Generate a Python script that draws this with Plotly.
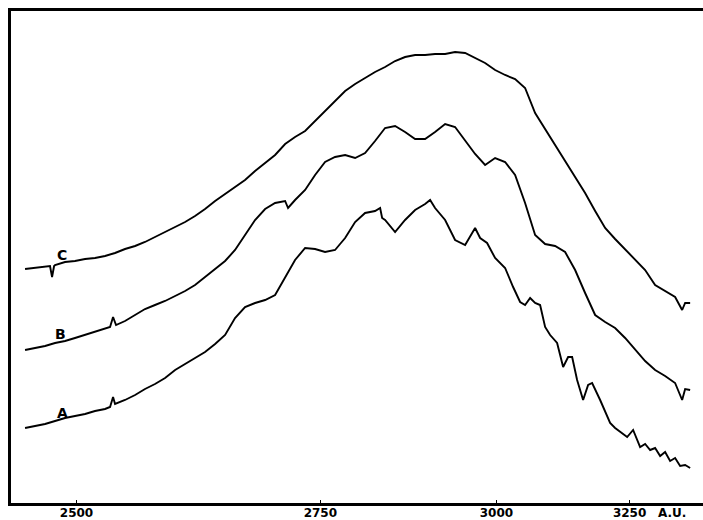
import numpy as np
import plotly.graph_objects as go

# ---- data (wavelength in Angstrom units, relative photometer deflection) ----
lam_C = [2457.2, 2465.3, 2473.5, 2477.6, 2479.3, 2481.0, 2481.8, 2490.2, 2498.7, 2507.4,
         2516.1, 2525.0, 2534.0, 2543.1, 2552.4, 2561.7, 2571.2, 2580.9, 2590.7, 2600.6,
         2610.6, 2620.8, 2631.2, 2641.7, 2652.3, 2663.1, 2674.1, 2685.3, 2696.6, 2708.1,
         2719.7, 2731.6, 2743.6, 2755.8, 2768.2, 2780.9, 2793.7, 2806.7, 2819.9, 2833.4,
         2847.1, 2861.0, 2875.2, 2889.6, 2904.2, 2919.2, 2934.3, 2949.8, 2965.5, 2981.5,
         2997.8, 3014.4, 3031.3, 3048.5, 3066.1, 3084.0, 3102.2, 3120.8, 3139.8, 3159.1,
         3178.9, 3199.0, 3219.5, 3240.5, 3261.9, 3283.8, 3306.1, 3328.9, 3352.2, 3368.9,
         3376.1, 3388.2]
val_C = [46.8, 47.0, 47.2, 47.4, 45.2, 47.4, 47.6, 48.2, 48.4, 48.8,
         49.0, 49.4, 50.0, 50.8, 51.4, 52.2, 53.2, 54.2, 55.2, 56.2,
         57.4, 58.8, 60.4, 61.8, 63.2, 64.6, 66.4, 68.0, 69.6, 71.8,
         73.2, 74.4, 76.4, 78.2, 80.2, 82.4, 83.8, 85.0, 86.2, 87.2,
         88.4, 89.2, 89.6, 89.6, 89.8, 89.8, 90.2, 90.0, 89.0, 88.0,
         86.6, 85.6, 84.8, 83.0, 78.0, 74.8, 71.8, 68.6, 65.2, 62.0,
         58.4, 55.0, 52.8, 50.8, 48.8, 46.6, 43.6, 42.4, 41.2, 38.6,
         40.0, 40.0]

lam_B = [2457.2, 2465.3, 2473.5, 2481.8, 2490.2, 2498.7, 2507.4, 2516.1, 2525.0, 2529.5,
         2532.2, 2534.9, 2543.1, 2552.4, 2561.7, 2571.2, 2580.9, 2590.7, 2600.6, 2610.6,
         2620.8, 2631.2, 2641.7, 2652.3, 2663.1, 2674.1, 2685.3, 2696.6, 2708.1, 2711.5,
         2719.7, 2731.6, 2743.6, 2755.8, 2768.2, 2780.9, 2793.7, 2806.7, 2819.9, 2833.4,
         2847.1, 2861.0, 2875.2, 2889.6, 2904.2, 2919.2, 2934.3, 2949.8, 2965.5, 2981.5,
         2997.8, 3014.4, 3031.3, 3048.5, 3066.1, 3084.0, 3102.2, 3120.8, 3139.8, 3159.1,
         3178.9, 3199.0, 3219.5, 3240.5, 3261.9, 3283.8, 3306.1, 3328.9, 3352.2, 3368.9,
         3376.1, 3388.2]
val_B = [30.6, 31.0, 31.4, 32.0, 32.4, 33.0, 33.6, 34.2, 34.8, 35.2,
         37.2, 35.6, 36.4, 37.6, 38.8, 39.6, 40.4, 41.4, 42.4, 43.6,
         45.2, 46.8, 48.4, 50.6, 53.6, 56.6, 58.8, 60.0, 60.4, 59.0,
         60.6, 62.6, 65.6, 68.2, 69.2, 69.6, 69.0, 70.0, 72.4, 75.0,
         75.4, 74.2, 72.8, 72.8, 74.2, 75.8, 75.2, 72.6, 69.8, 67.6,
         69.0, 68.2, 65.6, 60.0, 53.6, 51.8, 51.4, 50.2, 46.6, 42.0,
         37.6, 36.2, 35.0, 33.0, 30.8, 28.4, 26.6, 25.4, 24.0, 20.6,
         22.8, 22.6]

lam_A = [2457.2, 2465.3, 2473.5, 2481.8, 2490.2, 2498.7, 2507.4, 2516.1, 2525.0, 2529.5,
         2532.2, 2534.0, 2543.1, 2552.4, 2561.7, 2571.2, 2580.9, 2590.7, 2600.6, 2610.6,
         2620.8, 2631.2, 2641.7, 2652.3, 2663.1, 2674.1, 2685.3, 2696.6, 2708.1, 2719.7,
         2731.6, 2743.6, 2755.8, 2768.2, 2774.5, 2780.9, 2793.7, 2806.7, 2819.9, 2826.7,
         2829.4, 2833.4, 2847.1, 2861.0, 2875.2, 2889.6, 2896.9, 2904.2, 2919.2, 2934.3,
         2949.8, 2957.6, 2965.5, 2973.5, 2984.7, 2997.8, 3014.4, 3027.9, 3039.9, 3048.5,
         3057.3, 3066.1, 3075.0, 3084.0, 3093.1, 3105.9, 3117.1, 3126.5, 3134.1, 3143.6,
         3155.2, 3165.0, 3172.9, 3188.9, 3199.0, 3209.2, 3219.5, 3230.0, 3244.8, 3257.6,
         3266.3, 3272.8, 3283.8, 3294.9, 3306.1, 3317.5, 3328.9, 3340.5, 3352.2, 3364.1,
         3376.1, 3388.2]
val_A = [15.0, 15.4, 15.8, 16.4, 17.0, 17.4, 17.8, 18.4, 18.8, 19.2,
         21.2, 19.8, 20.6, 21.6, 22.8, 23.8, 25.0, 26.6, 27.8, 29.0,
         30.2, 31.8, 33.6, 37.0, 39.2, 40.0, 40.6, 41.6, 45.0, 48.6,
         51.0, 50.8, 50.2, 50.6, 51.8, 53.0, 56.2, 58.0, 58.4, 59.0,
         57.0, 56.6, 54.2, 56.6, 58.6, 59.8, 60.6, 59.0, 56.6, 52.6,
         51.6, 53.4, 55.0, 53.0, 52.0, 49.0, 47.0, 43.2, 40.2, 39.6,
         41.0, 40.0, 39.6, 35.2, 33.6, 32.0, 27.2, 29.2, 29.2, 24.6,
         20.6, 23.6, 24.0, 20.6, 18.2, 16.0, 15.0, 14.2, 13.2, 14.6,
         12.6, 11.2, 11.8, 10.6, 11.0, 9.4, 10.2, 8.4, 9.0, 7.4,
         7.6, 7.0]

tick_lam = [2500, 2750, 3000, 3250]
tick_text = ["2500", "2750", "3000", "3250"]
curve_names = ["A", "B", "C"]
label_lam = [2488, 2486, 2488]
label_val = [18.0, 33.8, 49.6]
view_lam = [2446, 3420]

# prism dispersion (Hartmann formula) -> linear plate coordinate
LAM0 = 1200.0
CDISP = 1.965e6


def plate(lam):
    lam = np.asarray(lam, dtype=float)
    return -CDISP / (lam - LAM0)


fig = go.Figure()
for lam, val in [(lam_A, val_A), (lam_B, val_B), (lam_C, val_C)]:
    fig.add_trace(go.Scatter(x=plate(lam), y=val, mode="lines",
                             line=dict(color="black", width=1.9),
                             showlegend=False, hoverinfo="skip"))

for name, lx, ly in zip(curve_names, label_lam, label_val):
    fig.add_annotation(x=float(plate(lx)), y=ly, text=f"<b>{name}</b>", showarrow=False,
                       xanchor="center", yanchor="middle",
                       font=dict(family="DejaVu Sans", size=14, color="black"))

fig.add_annotation(x=0.955, y=0, xref="paper", yref="paper", text="<b>A.U.</b>",
                   showarrow=False, xanchor="center", yanchor="top", yshift=-1,
                   font=dict(family="DejaVu Sans", size=12, color="black"))

fig.update_xaxes(range=list(plate(view_lam)), tickvals=list(plate(tick_lam)),
                 ticktext=[f"<b>{t}</b>" for t in tick_text],
                 showgrid=False, zeroline=False, showline=True, linecolor="black",
                 linewidth=3, mirror=True, ticks="inside", ticklen=3, tickwidth=1.5,
                 tickcolor="black", ticklabelstandoff=-3,
                 tickfont=dict(family="DejaVu Sans", size=12, color="black"))
fig.update_yaxes(range=[0, 98.4], showgrid=False, zeroline=False, showline=True,
                 linecolor="black", linewidth=3, showticklabels=False, ticks="")

fig.update_layout(width=703, height=520, margin=dict(l=11, r=0, t=11, b=17, autoexpand=False),
                  plot_bgcolor="white", paper_bgcolor="white")

fig.write_html("out.html", config={"displayModeBar": False, "staticPlot": True},
               post_script="document.body.style.margin='0';"
                           "document.body.style.overflow='hidden';")
